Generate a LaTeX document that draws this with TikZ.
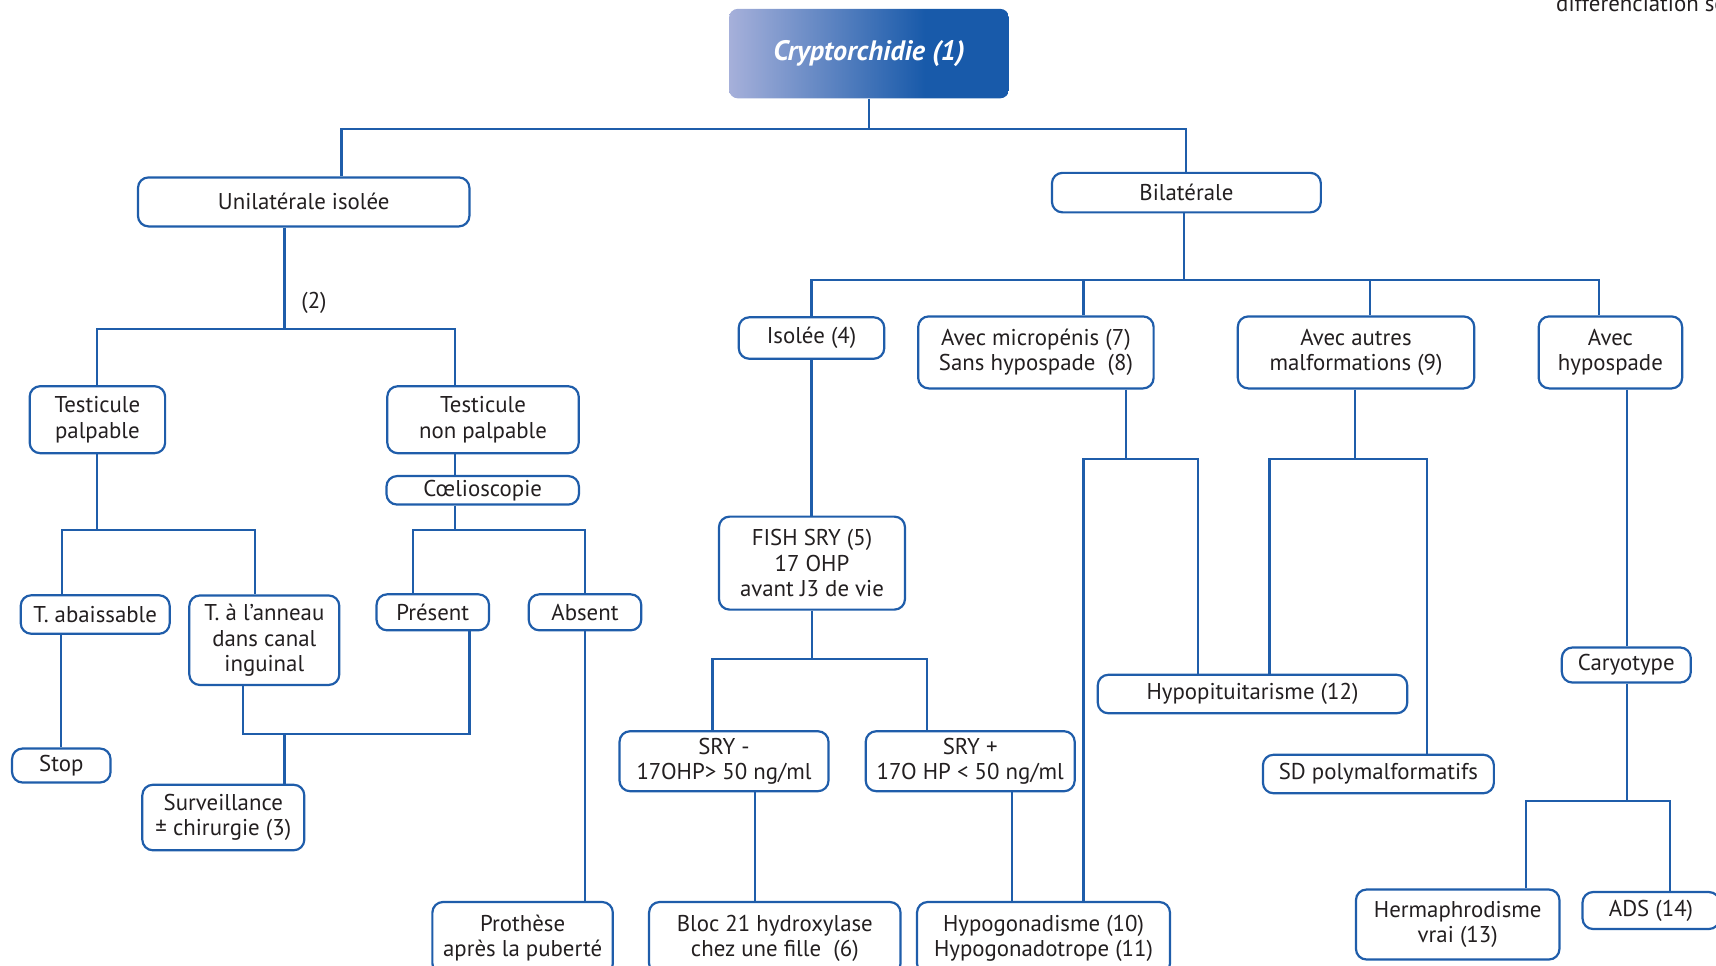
\documentclass[tikz,border=0pt]{standalone}
\usepackage{fontspec}
\setmainfont{PT Sans}
\usepackage{tikz}
\definecolor{lineblue}{RGB}{31,93,170}
\definecolor{titleL}{RGB}{166,176,218}
\definecolor{titleR}{RGB}{24,90,170}
\definecolor{txtgray}{RGB}{35,31,32}
\pgfdeclarehorizontalshading{titleshade}{100bp}{color(0bp)=(titleL); color(25bp)=(titleL); color(60bp)=(titleR); color(100bp)=(titleR)}

\tikzset{
    box/.style={draw=lineblue, line width=1.25pt, rounded corners=6pt, fill=white, align=center,
        inner sep=0pt, text=txtgray, font=\fontsize{13}{14.3}\selectfont},
    link/.style={draw=lineblue, line width=1.2pt},
}

\begin{document}
\begin{tikzpicture}[x=0.02cm, y=-0.02cm]
        \useasboundingbox (0,0) rectangle (1716,965);
        \clip (0,0) rectangle (1716,965);

        % title
        \node[shading=titleshade, rounded corners=5pt, minimum width=5.6cm, minimum height=1.79cm,
            text=white, font=\fontsize{16}{18}\selectfont\bfseries\itshape] (title) at (869,53.6) {Cryptorchidie (1)};
        \node[anchor=base west, text=txtgray, font=\fontsize{13}{14.3}\selectfont] (caption) at (1550,11) {différenciation se};

        % left branch
        \node[box, minimum width=6.63cm, minimum height=0.98cm] (unilat) at (303.7,201.9) {Unilatérale isolée};
        \node[text=txtgray, font=\fontsize{13}{14.3}\selectfont] (two) at (314,303) {(2)};
        \node[box, minimum width=2.71cm, minimum height=1.34cm] (palp) at (97.4,419.7) {Testicule\\palpable};
        \node[box, minimum width=3.83cm, minimum height=1.34cm] (nonpalp) at (483,419.7) {Testicule\\non palpable};
        \node[box, minimum width=3.85cm, minimum height=0.57cm] (coelio) at (482.7,490.3) {Cœlioscopie};
        \node[box, minimum width=2.98cm, minimum height=0.77cm] (abaiss) at (95.2,614.5) {T. abaissable};
        \node[box, minimum width=3.0cm, minimum height=1.79cm] (anneau) at (264.3,640.2) {T. à l’anneau\\dans canal\\inguinal};
        \node[box, minimum width=2.25cm, minimum height=0.72cm] (present) at (432.8,612.3) {Présent};
        \node[box, minimum width=2.25cm, minimum height=0.72cm] (absent) at (585,612.3) {Absent};
        \node[box, minimum width=1.97cm, minimum height=0.68cm] (stop) at (61.3,765.5) {Stop};
        \node[box, minimum width=3.24cm, minimum height=1.31cm] (surv) at (223.3,817.5) {Surveillance\\± chirurgie (3)};
        \node[box, minimum width=3.61cm, minimum height=1.44cm] (prothese) at (522.6,938) {Prothèse\\après la puberté};

        % right branch
        \node[box, minimum width=5.38cm, minimum height=0.79cm] (bilat) at (1186.4,192.6) {Bilatérale};
        \node[box, minimum width=2.91cm, minimum height=0.83cm] (isolee) at (811.5,338) {Isolée (4)};
        \node[box, minimum width=4.71cm, minimum height=1.44cm] (micro) at (1035.9,352.4) {Avec micropénis (7)\\Sans hypospade~~(8)};
        \node[box, minimum width=4.73cm, minimum height=1.44cm] (autres) at (1356,352.4) {Avec autres\\malformations (9)};
        \node[box, minimum width=2.87cm, minimum height=1.44cm] (hypo) at (1610.4,352.4) {Avec\\hypospade};
        \node[box, minimum width=3.72cm, minimum height=1.86cm] (fish) at (812,563.1) {FISH SRY (5)\\17 OHP\\avant J3 de vie};
        \node[box, minimum width=4.18cm, minimum height=1.2cm] (srym) at (724,761.2) {SRY -\\17OHP> 50 ng/ml};
        \node[box, minimum width=4.18cm, minimum height=1.2cm] (sryp) at (970.2,761.2) {SRY +\\17O HP < 50 ng/ml};
        \node[box, minimum width=5.03cm, minimum height=1.44cm] (bloc) at (774.8,938) {Bloc 21 hydroxylase\\chez une fille~~(6)};
        \node[box, minimum width=5.06cm, minimum height=1.44cm] (hypogo) at (1043.5,938) {Hypogonadisme (10)\\Hypogonadotrope (11)};
        \node[box, minimum width=6.19cm, minimum height=0.77cm] (hypopit) at (1252.5,694) {Hypopituitarisme (12)};
        \node[box, minimum width=4.62cm, minimum height=0.77cm] (sdpoly) at (1378.4,774) {SD polymalformatifs};
        \node[box, minimum width=2.58cm, minimum height=0.7cm] (caryo) at (1626.3,665) {Caryotype};
        \node[box, minimum width=4.07cm, minimum height=1.4cm] (herma) at (1457.7,924.5) {Hermaphrodisme\\vrai (13)};
        \node[box, minimum width=2.74cm, minimum height=0.74cm] (ads) at (1651,910.5) {ADS (14)};

        % connectors, left
        \draw[link] (title.south) -- (title.south |- 0,129);
        \draw[link] (unilat.north -| 341.5,0) |- (bilat.north |- 0,129) -- (bilat.north);
        \draw[link] (unilat.south -| 284.5,0) -- (284.5,329.4);
        \draw[link] (palp.north) |- (455.3,329.4) -- (nonpalp.north -| 455.3,0);
        \draw[link] (nonpalp.south -| 455.3,0) -- (coelio.north -| 455.3,0);
        \draw[link] (palp.south) -- (palp.south |- 0,529.7);
        \draw[link] (abaiss.north -| 62.4,0) |- (255,529.7) -- (anneau.north -| 255,0);
        \draw[link] (coelio.south -| 455.3,0) -- (455.3,529.7);
        \draw[link] (present.north -| 412.6,0) |- (absent.north |- 0,529.7) -- (absent.north);
        \draw[link] (abaiss.south -| stop.north) -- (stop.north);
        \draw[link] (anneau.south -| 243,0) |- (469.5,734.3) -- (present.south -| 469.5,0);
        \draw[link] (surv.north -| 284.5,0) -- (284.5,734.3);
        \draw[link] (absent.south) -- (absent.south |- prothese.north);

        % connectors, right
        \draw[link] (bilat.south -| 1184,0) -- (1184,280.2);
        \draw[link] (isolee.north) |- (1599,280.2) -- (hypo.north -| 1599,0);
        \draw[link] (micro.north -| 1083.5,0) -- (1083.5,280.2);
        \draw[link] (autres.north -| 1370.2,0) -- (1370.2,280.2);
        \draw[link] (isolee.south) -- (isolee.south |- fish.north);
        \draw[link] (fish.south) -- (fish.south |- 0,658.8);
        \draw[link] (srym.north -| 712.5,0) |- (927,658.8) -- (sryp.north -| 927,0);
        \draw[link] (srym.south -| 755.1,0) -- (bloc.north -| 755.1,0);
        \draw[link] (sryp.south -| 1012.3,0) -- (hypogo.north -| 1012.3,0);
        \draw[link] (micro.south -| 1126.1,0) -- (1126.1,458.6);
        \draw[link] (hypogo.north -| 1083.5,0) |- (1198.4,458.6) -- (hypopit.north -| 1198.4,0);
        \draw[link] (autres.south -| 1354.9,0) -- (1354.9,458.6);
        \draw[link] (hypopit.north -| 1269.5,0) |- (1427.1,458.6) -- (sdpoly.north -| 1427.1,0);
        \draw[link] (hypo.south -| 1627.4,0) -- (caryo.north -| 1627.4,0);
        \draw[link] (caryo.south -| 1627.4,0) -- (1627.4,801.1);
        \draw[link] (herma.north -| 1525.6,0) |- (1670,801.1) -- (ads.north -| 1670,0);

    \end{tikzpicture}
\end{document}
